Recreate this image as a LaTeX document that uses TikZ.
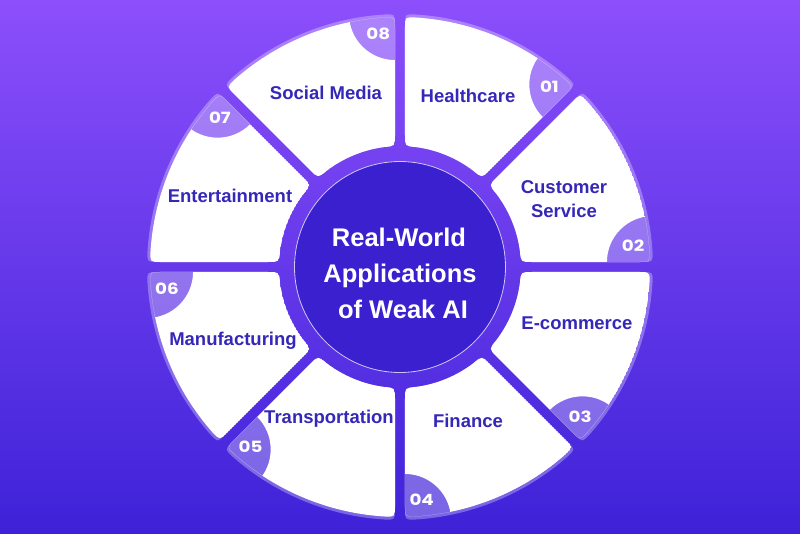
\documentclass[tikz,border=0pt]{standalone}
\usepackage{fontspec}
\setmainfont{Liberation Sans}
\newfontfamily\numfont{Poppins}[FakeStretch=1.18]
\usetikzlibrary{calc}
\definecolor{bgtop}{HTML}{8C4FFB}
\definecolor{bgbot}{HTML}{3E22D8}
\definecolor{txt}{HTML}{3527B8}
\definecolor{core}{HTML}{3A20CE}
\newcommand\mkseg[3]{%
  \pgfmathsetmacro\oA{#1+asin(5/#3)}%
  \pgfmathsetmacro\oB{#2-asin(5/#3)}%
  \pgfmathsetmacro\oAe{\oA+11/#3*180/pi}%
  \pgfmathsetmacro\oBe{\oB-11/#3*180/pi}%
  \pgfmathsetmacro\iA{#1+asin(5/121)}%
  \pgfmathsetmacro\iB{#2-asin(5/121)}%
  \pgfmathsetmacro\iAe{\iA+11/121*180/pi}%
  \pgfmathsetmacro\iBe{\iB-11/121*180/pi}%
  \def\rO{#3}%
}
\tikzset{
  segshape/.style={insert path={
    ($(\iA:121)!11pt!(\oA:\rO)$) -- ($(\oA:\rO)!11pt!(\iA:121)$)
    .. controls (\oA:\rO) .. (\oAe:\rO)
    arc[start angle=\oAe, end angle=\oBe, radius=\rO]
    .. controls (\oB:\rO) .. ($(\oB:\rO)!11pt!(\iB:121)$)
    -- ($(\iB:121)!11pt!(\oB:\rO)$)
    .. controls (\iB:121) .. (\iBe:121)
    arc[start angle=\iBe, end angle=\iAe, radius=121]
    .. controls (\iA:121) .. ($(\iA:121)!11pt!(\oA:\rO)$) -- cycle}},
  lbl/.style={text=txt, font=\fontsize{18.5}{22}\selectfont\bfseries, anchor=base},
  hubtxt/.style={text=white, font=\fontsize{25.5}{30}\selectfont\bfseries, anchor=base},
  numtxt/.style={text=white, font=\numfont\fontsize{15.5}{17}\selectfont\bfseries, anchor=center}
}
\begin{document}
\begin{tikzpicture}[x=1pt,y=1pt]
\shade[top color=bgtop,bottom color=bgbot] (-400,-266) rectangle (400,267);
\useasboundingbox (-400,-266) rectangle (400,267);
\foreach \a/\n in {45/01, 0/02, -45/03, -90/04, -135/05, 180/06, 135/07, 90/08} {
  \pgfmathsetmacro\b{\a+45}
  \mkseg{\a}{\b}{253}
  \pgfmathsetmacro\cA{\oA}
  \fill[white, fill opacity=0.3, segshape];
  \begin{scope}
    \mkseg{\a}{\b}{250}
    \clip[segshape];
    \fill[white, even odd rule, segshape] (\cA:253) circle[radius=46];
  \end{scope}
  \pgfmathsetmacro\ang{\a+140}
  \node[numtxt] (n\n) at ($(\cA:253)+(\ang:26)$) {\n};
}
\node[circle, fill=core, minimum size=211, inner sep=0, draw=white!75!core, line width=0.8] (hub) at (0,0) {};
\node[hubtxt] (h1) at (-1,21) {Real-World};
\node[hubtxt] (h2) at (0,-15) {Applications};
\node[hubtxt] (h3) at (3,-51) {of Weak AI};
\node[lbl] (s1) at (68,164) {Healthcare};
\node[lbl] (s2a) at (164,74) {Customer};
\node[lbl] (s2b) at (164,50) {Service};
\node[lbl] (s3) at (177,-62) {E-commerce};
\node[lbl] (s4) at (68,-160) {Finance};
\node[lbl] (s5) at (-71,-156) {Transportation};
\node[lbl] (s6) at (-167,-78) {Manufacturing};
\node[lbl] (s7) at (-170,64) {Entertainment};
\node[lbl] (s8) at (-74,167) {Social Media};
\end{tikzpicture}
\end{document}
